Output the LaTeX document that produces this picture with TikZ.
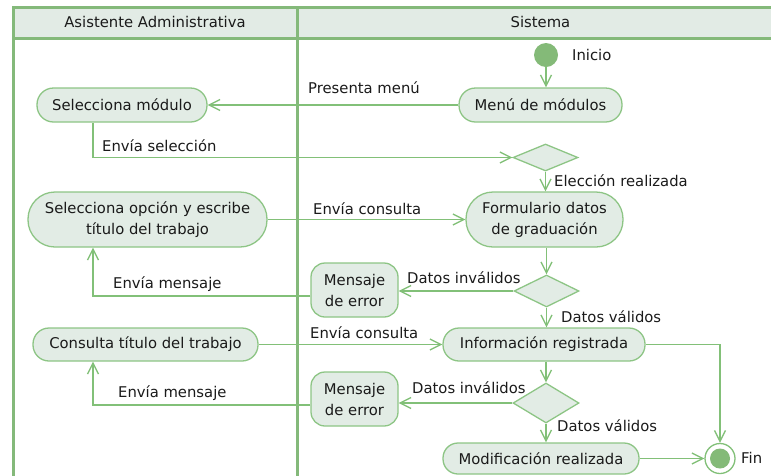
\documentclass[tikz,border=0pt]{standalone}
\usepackage{fontspec}
\setmainfont{DejaVu Sans}
\usetikzlibrary{arrows.meta,shapes.geometric,calc}
\definecolor{framec}{HTML}{84B97A}
\definecolor{hdrfill}{HTML}{E2EBE5}
\definecolor{nodef}{HTML}{E2ECE5}
\definecolor{nodeb}{HTML}{8DC585}
\definecolor{edgec}{HTML}{82C078}
\definecolor{startc}{HTML}{84BA78}
\definecolor{txt}{HTML}{1A1A1A}
\tikzset{
  frameline/.style={draw=framec, line width=3pt},
  act/.style={draw=nodeb, fill=nodef, line width=1.3pt, inner sep=0pt, align=center, text=txt,
    font={\fontsize{14.8}{21}\selectfont}},
  dia/.style={diamond, draw=nodeb, fill=nodef, line width=1.3pt, inner sep=0pt},
  edge/.style={draw=edgec, line width=1.3pt, -{Straight Barb[length=11pt,width=11pt]}},
  plain/.style={draw=edgec, line width=1.3pt},
  lbl/.style={inner sep=0pt, text=txt, font={\fontsize{14.8}{18}\selectfont}, text height=11pt, text depth=3pt, anchor=west}
}
\begin{document}
\begin{tikzpicture}[x=1pt,y=-1pt]
\useasboundingbox (0,0) rectangle (771,475);
\clip (0,0) rectangle (771,475);
% swimlane frame
\fill[hdrfill] (13,7) rectangle (795,38);
\draw[frameline] (13,495) -- (13,7) -- (795,7);
\draw[frameline] (13,38) -- (795,38);
\draw[frameline] (297,7) -- (297,495);
\node[lbl, anchor=center] (h1) at (155,23) {Asistente Administrativa};
\node[lbl, anchor=center] (h2) at (540.5,23) {Sistema};
\coordinate (x93) at (93,0);
% nodes
\node[circle, fill=startc, minimum size=24pt, inner sep=0pt] (start) at (546,55) {};
\node[lbl] (lstart) at (572,56) {Inicio};
\node[act, minimum width=163pt, minimum height=34pt, rounded corners=16.5pt] (menu) at (540.5,105) {Menú de módulos};
\node[act, minimum width=170pt, minimum height=34pt, rounded corners=16.5pt] (sel) at (122,105) {Selecciona módulo};
\node[dia, minimum width=65pt, minimum height=27pt] (d1) at (545.5,157.5) {};
\node[act, minimum width=157pt, minimum height=55pt, rounded corners=27pt] (form) at (544.5,219.5) {Formulario datos\\de graduación};
\node[act, minimum width=239pt, minimum height=55pt, rounded corners=27pt] (selop) at (147.5,219.5) {Selecciona opción y escribe\\título del trabajo};
\node[dia, minimum width=65pt, minimum height=32pt] (d2) at (546.5,291) {};
\node[act, minimum width=87pt, minimum height=54pt, rounded corners=14pt] (err1) at (354.5,290) {Mensaje\\de error};
\node[act, minimum width=202pt, minimum height=33pt, rounded corners=16pt] (info) at (544,344.5) {Información registrada};
\node[act, minimum width=225pt, minimum height=33pt, rounded corners=16pt] (cons) at (145.5,344.5) {Consulta título del trabajo};
\node[dia, minimum width=66pt, minimum height=40pt] (d3) at (546,403) {};
\node[act, minimum width=87pt, minimum height=54pt, rounded corners=14pt] (err2) at (354.5,399) {Mensaje\\de error};
\node[act, minimum width=196pt, minimum height=31pt, rounded corners=15pt] (mod) at (541,458.5) {Modificación realizada};
\node[circle, draw=edgec, fill=white, line width=1.3pt, minimum size=30pt, inner sep=0pt] (fin) at (720,458.5) {};
\node[circle, fill=startc, minimum size=20pt, inner sep=0pt] (finin) at (fin.center) {};
\node[lbl] (lfin) at (741,459) {Fin};
% connectors
\draw[edge] (start.south) -- (start.south |- menu.north);
\draw[edge] (menu.west) -- (sel.east);
\node[lbl] (l1) at (308,89) {Presenta menú};
\draw[edge] (sel.south -| x93) -- (x93 |- d1.west) -- (d1.west);
\node[lbl] (l2) at (102,147) {Envía selección};
\draw[edge] (d1.south) -- (d1.south |- form.north);
\node[lbl] (l3) at (554,182) {Elección realizada};
\draw[edge] (selop.east) -- (form.west);
\node[lbl] (l4) at (313,210) {Envía consulta};
\draw[edge] (d2.north |- form.south) -- (d2.north);
\draw[edge] (d2.west) -- (err1.east |- d2.west);
\node[lbl] (l5) at (407,279) {Datos inválidos};
\draw[edge] ($(err1.west)+(0,6)$) -- (x93 |- {$(err1.west)+(0,6)$}) -- (selop.south -| x93);
\node[lbl] (l6) at (113,284) {Envía mensaje};
\draw[edge] (d2.south) -- (d2.south |- info.north);
\node[lbl] (l7) at (561,318) {Datos válidos};
\draw[edge] (cons.east) -- (info.west);
\node[lbl] (l8) at (310,334) {Envía consulta};
\draw[edge] (d3.north |- info.south) -- (d3.north);
\draw[edge] (d3.west) -- (err2.east |- d3.west);
\node[lbl] (l9) at (412,389) {Datos inválidos};
\draw[edge] ($(err2.west)+(0,6)$) -- (x93 |- {$(err2.west)+(0,6)$}) -- (cons.south -| x93);
\node[lbl] (l10) at (118,393) {Envía mensaje};
\draw[edge] (d3.south) -- (d3.south |- mod.north);
\node[lbl] (l11) at (557,427) {Datos válidos};
\draw[edge] (mod.east) -- (fin.west);
\draw[edge] (info.east) -- (fin.north |- info.east) -- (fin.north);
\end{tikzpicture}
\end{document}
